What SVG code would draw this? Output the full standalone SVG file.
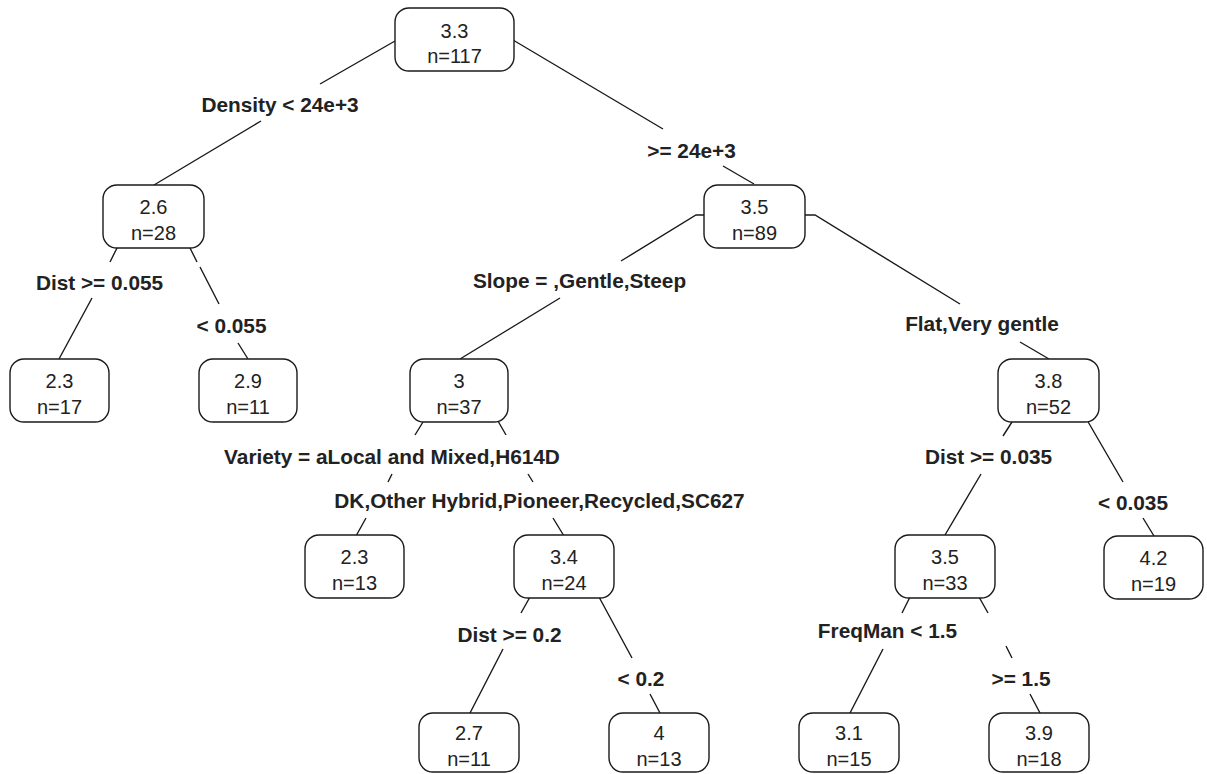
<svg xmlns="http://www.w3.org/2000/svg" width="1207" height="774" viewBox="0 0 1207 774">
<style>
.box{fill:#fff;stroke:#1a1a1a;stroke-width:1.4}
.nt{font-family:"Liberation Sans",Arial,Helvetica,sans-serif;font-size:20px;fill:#222;text-anchor:middle}
.lb{font-family:"Liberation Sans",Arial,Helvetica,sans-serif;font-size:20.8px;font-weight:bold;fill:#222;text-anchor:middle}
.edge{fill:none;stroke:#1a1a1a;stroke-width:1.4}
</style>
<rect width="1207" height="774" fill="#fff"/>
<g id="connectors">
<path class="edge" d="M395,41 L320,84 M261,121 L154,185"/>
<path class="edge" d="M513,40 L663,129 M723,166 L754,184"/>
<path class="edge" d="M118,246 L110,262 M92,298 L59,359"/>
<path class="edge" d="M189,246 L197,262 M200,267 L219,304 M238,343 L248,359"/>
<path class="edge" d="M705,215 L696,215 L621,261 M560,298 L460,359"/>
<path class="edge" d="M805,215 L815,215 L960,304 M1020,342 L1049,359"/>
<path class="edge" d="M423,422 L415,435 M392,474 L388,482 M366,518 L356,536"/>
<path class="edge" d="M498,421 L506,435 M528,474 L533,482 M553,518 L564,536"/>
<path class="edge" d="M1012,422 L1003,436 M981,474 L945,535"/>
<path class="edge" d="M1087,420 L1123,482 M1143,518 L1154,536"/>
<path class="edge" d="M530,597 L521,613 M503,649 L470,713"/>
<path class="edge" d="M599,597 L632,658 M650,694 L660,713"/>
<path class="edge" d="M910,597 L902,613 M883,649 L850,713"/>
<path class="edge" d="M979,597 L988,613 M1006,646 L1012,658 M1030,694 L1040,713"/>
</g>
<g id="labels">
<text class="lb" x="280" y="112">Density &lt; 24e+3</text>
<text class="lb" x="691.5" y="158">&gt;= 24e+3</text>
<text class="lb" x="99.5" y="290">Dist &gt;= 0.055</text>
<text class="lb" x="231.5" y="333">&lt; 0.055</text>
<text class="lb" x="579.5" y="288">Slope = ,Gentle,Steep</text>
<text class="lb" x="982" y="331">Flat,Very gentle</text>
<text class="lb" x="392" y="464">Variety = aLocal and Mixed,H614D</text>
<text class="lb" x="539.5" y="508">DK,Other Hybrid,Pioneer,Recycled,SC627</text>
<text class="lb" x="988.5" y="464">Dist &gt;= 0.035</text>
<text class="lb" x="1133" y="510">&lt; 0.035</text>
<text class="lb" x="509.5" y="642">Dist &gt;= 0.2</text>
<text class="lb" x="641" y="686">&lt; 0.2</text>
<text class="lb" x="887.5" y="638">FreqMan &lt; 1.5</text>
<text class="lb" x="1021" y="686">&gt;= 1.5</text>
</g>
<g id="n1"><rect class="box" x="395" y="8" width="119" height="63" rx="14" ry="14"/><text class="nt" x="454.5" y="38">3.3</text><text class="nt" x="454.5" y="63">n=117</text></g>
<g id="n2"><rect class="box" x="103" y="185" width="101" height="63" rx="14" ry="14"/><text class="nt" x="153.5" y="214">2.6</text><text class="nt" x="153.5" y="240">n=28</text></g>
<g id="n3"><rect class="box" x="704" y="185" width="101" height="63" rx="14" ry="14"/><text class="nt" x="754.5" y="214">3.5</text><text class="nt" x="754.5" y="240">n=89</text></g>
<g id="n4"><rect class="box" x="10" y="359" width="99" height="63" rx="14" ry="14"/><text class="nt" x="59.5" y="388">2.3</text><text class="nt" x="59.5" y="414">n=17</text></g>
<g id="n5"><rect class="box" x="199" y="359" width="98" height="63" rx="14" ry="14"/><text class="nt" x="248" y="388">2.9</text><text class="nt" x="248" y="414">n=11</text></g>
<g id="n6"><rect class="box" x="410" y="359" width="98" height="63" rx="14" ry="14"/><text class="nt" x="459" y="388">3</text><text class="nt" x="459" y="414">n=37</text></g>
<g id="n7"><rect class="box" x="998" y="359" width="101" height="63" rx="14" ry="14"/><text class="nt" x="1048.5" y="388">3.8</text><text class="nt" x="1048.5" y="414">n=52</text></g>
<g id="n8"><rect class="box" x="305" y="535" width="99" height="63" rx="14" ry="14"/><text class="nt" x="354.5" y="564">2.3</text><text class="nt" x="354.5" y="590">n=13</text></g>
<g id="n9"><rect class="box" x="514" y="535" width="100" height="63" rx="14" ry="14"/><text class="nt" x="564" y="564">3.4</text><text class="nt" x="564" y="590">n=24</text></g>
<g id="n10"><rect class="box" x="895" y="535" width="100" height="63" rx="14" ry="14"/><text class="nt" x="945" y="564">3.5</text><text class="nt" x="945" y="590">n=33</text></g>
<g id="n11"><rect class="box" x="1104" y="536" width="99" height="63" rx="14" ry="14"/><text class="nt" x="1153.5" y="565">4.2</text><text class="nt" x="1153.5" y="591">n=19</text></g>
<g id="n12"><rect class="box" x="419" y="713" width="100" height="59" rx="14" ry="14"/><text class="nt" x="469" y="740">2.7</text><text class="nt" x="469" y="766">n=11</text></g>
<g id="n13"><rect class="box" x="609" y="713" width="100" height="59" rx="14" ry="14"/><text class="nt" x="659" y="740">4</text><text class="nt" x="659" y="766">n=13</text></g>
<g id="n14"><rect class="box" x="799" y="713" width="100" height="59" rx="14" ry="14"/><text class="nt" x="849" y="740">3.1</text><text class="nt" x="849" y="766">n=15</text></g>
<g id="n15"><rect class="box" x="989" y="713" width="100" height="59" rx="14" ry="14"/><text class="nt" x="1039" y="740">3.9</text><text class="nt" x="1039" y="766">n=18</text></g>
</svg>
